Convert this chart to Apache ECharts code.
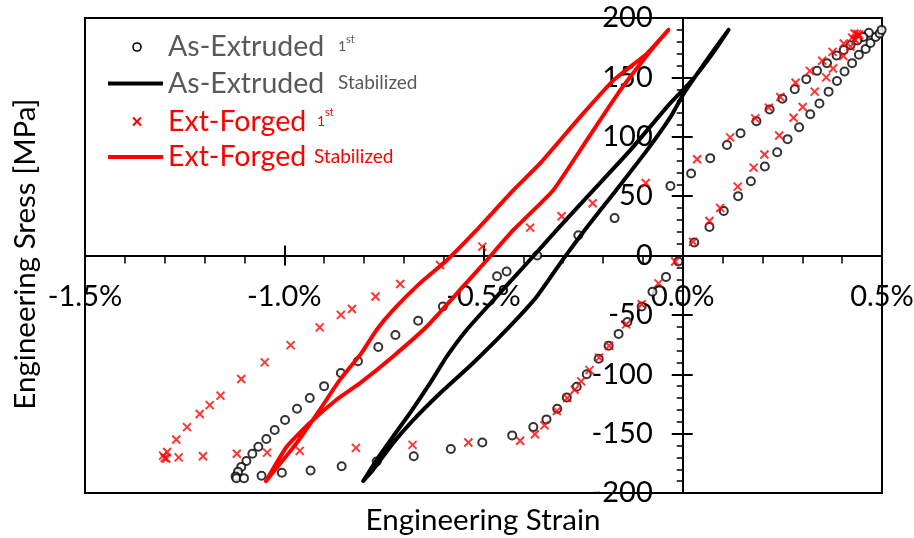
<!DOCTYPE html>
<html><head><meta charset="utf-8">
<script src="https://cdn.jsdelivr.net/npm/echarts@6/dist/echarts.min.js"></script>
<style>html,body{margin:0;padding:0;background:#fff}#c{width:914px;height:538px}</style>
</head><body><div id="c"></div>
<script>
// ---- data (strain in %, stress in MPa) ----
const xTickValues = [-1.5, -1.0, -0.5, 0.0, 0.5];
const xTickLabels = ['-1.5%', '-1.0%', '-0.5%', '0.0%', '0.5%'];
const yTickValues = [-200, -150, -100, -50, 0, 50, 100, 150, 200];
const yTickLabels = ['-200', '-150', '-100', '-50', '0', '50', '100', '150', '200'];

const seriesNames = ['As-Extruded 1st', 'Ext-Forged 1st', 'As-Extruded Stabilized', 'Ext-Forged Stabilized'];

const asExtruded1st = [
  [0.029,11],[0.067,24],[0.103,37.5],[0.139,50],[0.171,62.5],[0.206,75],[0.237,87],[0.263,98],[0.292,108],[0.320,119],
  [0.343,128],[0.366,138],[0.387,147],[0.406,155],[0.425,162],[0.442,169],[0.459,174],[0.471,179],[0.484,184],[0.494,187],[0.499,190],
  [0.467,187.5],[0.453,184],[0.438,181],[0.421,177],[0.404,173],[0.386,168.5],[0.362,162],[0.337,155.5],[0.310,148.5],[0.281,140],
  [0.250,132],[0.218,123],[0.185,113],[0.145,103],[0.111,93],[0.069,82],[0.021,69],[-0.031,58.5],[-0.171,31.5],[-0.262,17],
  [-0.365,0],[-0.442,-13.5],[-0.466,-17.5],[-0.602,-43],[-0.664,-55],[-0.721,-67],[-0.764,-77],[-0.815,-89],[-0.858,-99],[-0.900,-110],
  [-0.936,-120],[-0.968,-129],[-0.998,-138.5],[-1.024,-147],[-1.045,-154.5],[-1.065,-161],[-1.080,-167],[-1.095,-173],[-1.108,-178],
  [-1.116,-182],[-1.122,-186],[-1.120,-187.5],
  [-1.101,-187.5],[-1.057,-185.5],[-1.006,-183],[-0.934,-181],[-0.856,-177.5],[-0.768,-173.5],[-0.675,-169],[-0.582,-163],[-0.503,-157.5],
  [-0.428,-151.5],[-0.375,-144.5],[-0.342,-138],[-0.315,-129],[-0.291,-119.5],[-0.266,-110.5],[-0.241,-100],[-0.211,-87],[-0.186,-76],
  [-0.161,-66],[-0.139,-56],[-0.103,-43],[-0.076,-30.5],[-0.042,-18],[-0.011,-5]
];

const extForged1st = [
  [0.026,11.5],[0.067,29],[0.094,40],[0.138,58],[0.178,74],[0.205,85],[0.242,101],[0.278,116],[0.301,125],[0.331,138],
  [0.360,150],[0.377,157.5],[0.403,168],[0.421,176],[0.433,181.5],[0.441,185],[0.431,187],[0.443,186],
  [0.438,186.5],[0.425,183.5],[0.404,178.5],[0.376,171.5],[0.350,164],[0.319,155.5],[0.283,145.5],[0.245,133.5],[0.216,124.5],
  [0.182,115.5],[0.119,99.5],[0.036,81],[-0.093,61],[-0.226,44],[-0.304,33],[-0.383,23.5],[-0.503,7.5],[-0.609,-8],[-0.709,-24],
  [-0.771,-34.5],[-0.830,-45],[-0.858,-50],[-0.911,-60.5],[-0.984,-75.5],[-1.049,-90],[-1.108,-104],[-1.160,-118],[-1.187,-126],
  [-1.212,-133.5],[-1.244,-144.5],[-1.271,-155],[-1.294,-165.5],[-1.300,-170.5],[-1.304,-168.5],[-1.296,-171],
  [-1.265,-170],[-1.204,-169],[-1.119,-167],[-1.043,-166],[-0.961,-164.5],[-0.820,-162],[-0.678,-159.5],[-0.538,-157.5],[-0.408,-156],
  [-0.371,-150.5],[-0.347,-143],[-0.316,-131],[-0.290,-120],[-0.271,-113],[-0.255,-106],[-0.234,-96.5],[-0.210,-86],[-0.185,-76],
  [-0.142,-58],[-0.103,-41],[-0.061,-23.5],[-0.019,-5]
];

const asExtrudedStab = [
  [0.115,190],[0.077,171],[0.027,149],[-0.040,125],[-0.132,88.5],[-0.241,49],[-0.316,21.5],[-0.391,-6.5],[-0.475,-37.5],[-0.542,-62.5],
  [-0.592,-85],[-0.634,-107.5],[-0.685,-133],[-0.727,-152.5],[-0.768,-172],[-0.802,-190],
  [-0.777,-180.5],[-0.727,-158],[-0.676,-138.5],[-0.609,-116],[-0.526,-90.5],[-0.442,-62.5],[-0.366,-34.5],[-0.300,-3],[-0.240,24],
  [-0.174,52],[-0.090,88.5],[-0.031,116.5],[0.002,136],[0.036,153],[0.077,172.5],[0.115,190]
];

const extForgedStab = [
  [-0.036,190],[-0.090,170],[-0.174,147.5],[-0.258,116.5],[-0.358,77.5],[-0.425,55],[-0.517,21.5],[-0.592,-4],[-0.660,-23.5],[-0.727,-46],
  [-0.768,-62.5],[-0.806,-82],[-0.861,-105],[-0.911,-130],[-0.969,-158],[-1.046,-190],
  [-0.994,-161],[-0.936,-141],[-0.869,-121.5],[-0.810,-107.5],[-0.727,-85],[-0.643,-60],[-0.559,-29],[-0.492,-4],[-0.425,21.5],
  [-0.325,55],[-0.241,97],[-0.157,139],[-0.073,175.5],[-0.036,190]
];

// ---- chart ----
const FONT = 'Lato';
const fmtX = v => { const i = xTickValues.findIndex(t => Math.abs(t - v) < 1e-9); return i >= 0 ? xTickLabels[i] : ''; };
const fmtY = v => { const i = yTickValues.findIndex(t => Math.abs(t - v) < 1e-9); return i >= 0 ? yTickLabels[i] : ''; };
const XMARK = 'path://M0,0L10,10M10,0L0,10';

const G = {left: 85, right: 32, top: 18, bottom: 45, W: 914, H: 538};
const plotW = G.W - G.left - G.right, plotH = G.H - G.top - G.bottom;
const xMin = -1.5, xMax = 0.5, yMin = -200, yMax = 200;
// distance of the zero lines from the plot edges (axis placement only)
const zeroFromBottom = plotH * (0 - yMin) / (yMax - yMin);
const zeroFromLeft = plotW * (0 - xMin) / (xMax - xMin);

const chart = echarts.init(document.getElementById('c'), null, {renderer: 'canvas'});

const baseX = {type: 'value', min: xMin, max: xMax, interval: 0.5, splitLine: {show: false}};
const baseY = {type: 'value', min: yMin, max: yMax, interval: 50, splitLine: {show: false}};
const gridRect = {left: G.left, right: G.right, top: G.top, bottom: G.bottom, containLabel: false, outerBoundsMode: 'none'};

const legendRows = [47, 83.5, 121.5, 157];
const grey = '#595959', red = '#ff0000';

chart.setOption({
  animation: false,
  backgroundColor: '#fff',
  grid: [
    Object.assign({}, gridRect, {show: true, borderColor: '#000', borderWidth: 2, backgroundColor: 'transparent'}),
    Object.assign({}, gridRect, {show: false})
  ],
  xAxis: [
    Object.assign({}, baseX, {
      gridIndex: 0, position: 'bottom', offset: -zeroFromBottom,
      axisLine: {show: true, onZero: false, lineStyle: {color: '#000', width: 2}},
      axisTick: {show: true, length: 10, lineStyle: {color: '#000', width: 2}},
      minorTick: {show: true, splitNumber: 5, length: 8, lineStyle: {color: '#000', width: 1.5}},
      axisLabel: {show: true, formatter: fmtX, margin: 27, fontFamily: FONT, fontSize: 29, color: '#000', showMinLabel: true, showMaxLabel: true, hideOverlap: false}
    }),
    Object.assign({}, baseX, {
      gridIndex: 1, position: 'top', offset: -(plotH - zeroFromBottom),
      axisLine: {show: false, onZero: false},
      axisTick: {show: true, length: 10, lineStyle: {color: '#000', width: 2}},
      axisLabel: {show: false}
    })
  ],
  yAxis: [
    Object.assign({}, baseY, {
      gridIndex: 0, position: 'left', offset: -zeroFromLeft,
      axisLine: {show: true, onZero: false, lineStyle: {color: '#000', width: 2}},
      axisTick: {show: true, length: 11, lineStyle: {color: '#000', width: 2}},
      minorTick: {show: true, splitNumber: 5, length: 6, lineStyle: {color: '#000', width: 1.5}},
      axisLabel: {show: true, formatter: fmtY, margin: 30, fontFamily: FONT, fontSize: 29, color: '#000', showMinLabel: true, showMaxLabel: true, hideOverlap: false}
    }),
    Object.assign({}, baseY, {
      gridIndex: 1, position: 'right', offset: -(plotW - zeroFromLeft),
      axisLine: {show: false, onZero: false},
      axisTick: {show: true, length: 10, lineStyle: {color: '#000', width: 2}},
      axisLabel: {show: false}
    })
  ],
  series: [
    {name: seriesNames[0], type: 'scatter', xAxisIndex: 0, yAxisIndex: 0, data: asExtruded1st,
     symbol: 'emptyCircle', symbolSize: 8, itemStyle: {color: '#000', borderColor: '#000', borderWidth: 1.6}, z: 2},
    {name: seriesNames[1], type: 'scatter', xAxisIndex: 0, yAxisIndex: 0, data: extForged1st,
     symbol: XMARK, symbolSize: 8, itemStyle: {color: 'none', borderColor: red, borderWidth: 2}, z: 3},
    {name: seriesNames[2], type: 'line', xAxisIndex: 0, yAxisIndex: 0, data: asExtrudedStab,
     symbol: 'none', smooth: 0.15, lineStyle: {color: '#000', width: 4, join: 'round', cap: 'round'}, z: 4},
    {name: seriesNames[3], type: 'line', xAxisIndex: 0, yAxisIndex: 0, data: extForgedStab,
     symbol: 'none', smooth: 0.15, lineStyle: {color: red, width: 4, join: 'round', cap: 'round'}, z: 4}
  ],
  graphic: [
    {type: 'text', x: 483, y: 520, style: {text: 'Engineering Strain', font: '29.5px ' + FONT, fill: '#000', align: 'center', verticalAlign: 'middle'}},
    {type: 'text', x: 25, y: 254, rotation: Math.PI / 2, style: {text: 'Engineering Sress [MPa]', font: '29.5px ' + FONT, fill: '#000', align: 'center', verticalAlign: 'middle'}},
    {type: 'circle', shape: {cx: 137, cy: legendRows[0], r: 4}, style: {fill: 'none', stroke: '#000', lineWidth: 1.6}},
    {type: 'text', x: 168, y: legendRows[0], style: {text: 'As-Extruded', font: '28.5px ' + FONT, fill: grey, verticalAlign: 'middle'}},
    {type: 'text', x: 338, y: legendRows[0] - 1, style: {text: '1', font: '14px ' + FONT, fill: grey, verticalAlign: 'middle'}},
    {type: 'text', x: 346, y: legendRows[0] - 8, style: {text: 'st', font: '11px ' + FONT, fill: grey, verticalAlign: 'middle'}},
    {type: 'line', shape: {x1: 108, y1: legendRows[1], x2: 163, y2: legendRows[1]}, style: {stroke: '#000', lineWidth: 4}},
    {type: 'text', x: 168, y: legendRows[1], style: {text: 'As-Extruded', font: '28.5px ' + FONT, fill: grey, verticalAlign: 'middle'}},
    {type: 'text', x: 338, y: legendRows[1] - 0.5, style: {text: 'Stabilized', font: '19px ' + FONT, fill: grey, verticalAlign: 'middle'}},
    {type: 'line', shape: {x1: 133, y1: 117.5, x2: 141, y2: 125.5}, style: {stroke: red, lineWidth: 2}},
    {type: 'line', shape: {x1: 141, y1: 117.5, x2: 133, y2: 125.5}, style: {stroke: red, lineWidth: 2}},
    {type: 'text', x: 168, y: legendRows[2], style: {text: 'Ext-Forged', font: '28.5px ' + FONT, fill: red, verticalAlign: 'middle'}},
    {type: 'text', x: 317, y: legendRows[2] - 0.5, style: {text: '1', font: '14px ' + FONT, fill: red, verticalAlign: 'middle'}},
    {type: 'text', x: 325, y: legendRows[2] - 9, style: {text: 'st', font: '11px ' + FONT, fill: red, verticalAlign: 'middle'}},
    {type: 'line', shape: {x1: 108, y1: legendRows[3], x2: 163, y2: legendRows[3]}, style: {stroke: red, lineWidth: 4}},
    {type: 'text', x: 168, y: legendRows[3], style: {text: 'Ext-Forged', font: '28.5px ' + FONT, fill: red, verticalAlign: 'middle'}},
    {type: 'text', x: 314, y: legendRows[3], style: {text: 'Stabilized', font: '19px ' + FONT, fill: red, verticalAlign: 'middle'}}
  ]
});
</script>
</body></html>
